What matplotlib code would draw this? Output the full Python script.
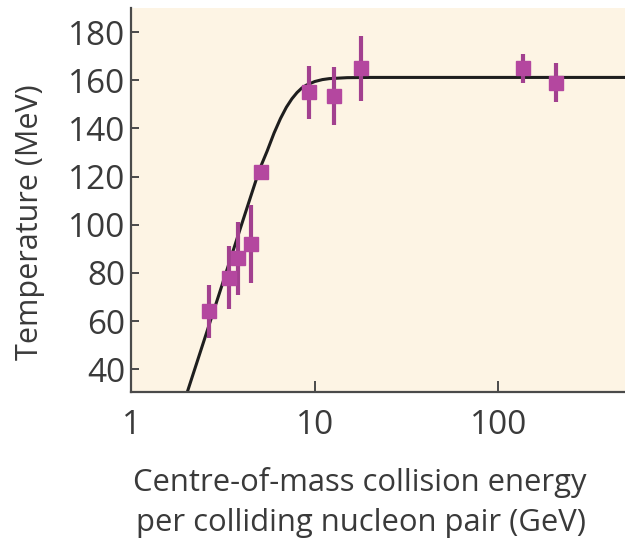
import numpy as np
import matplotlib.pyplot as plt
from matplotlib.ticker import FixedLocator, NullLocator

plt.rcParams['font.family'] = ['Open Sans', 'DejaVu Sans']

# measured points
energy = [2.64, 3.39, 3.84, 4.47, 5.07, 9.3, 12.7, 17.9, 137, 207]
temp = [64, 78, 86, 92, 122, 155, 153.5, 165, 165, 159]
temp_err = [11, 13, 15, 16, 3, 11, 12, 13.5, 6, 8]

# fitted curve
curve_e = [2.02, 3, 4, 5, 5.5, 6, 6.5, 7, 7.5, 8, 8.5, 9, 10, 11, 12, 15, 20, 500]
curve_t = [30.5, 70.8, 100.3, 123.0, 130.6, 138.1, 144.1, 148.8, 152.3, 154.9,
           156.8, 158.0, 159.5, 160.3, 160.7, 161.1, 161.2, 161.2]

ink = '#3a3a3a'
W, H = 625, 540
fig = plt.figure(figsize=(6.25, 5.4), dpi=100)
ax = fig.add_axes([0.21, 0.274, 0.79, 0.711])
ax.set_facecolor('#fdf4e4')

ax.plot(curve_e, curve_t, color='#1e1e1e', lw=2.2, zorder=2)
ax.errorbar(energy, temp, yerr=temp_err, fmt='s', color='#b4479f', ecolor='#a2408f',
            ms=10, elinewidth=3, capsize=0, zorder=3)

ax.set_xscale('log')
ax.set_xlim(1, 490)
ax.set_ylim(30.5, 190)
ax.xaxis.set_major_locator(FixedLocator([1, 10, 100]))
ax.xaxis.set_minor_locator(NullLocator())
ax.set_xticklabels(['1', '10', '100'])
ax.set_yticks(range(40, 181, 20))

for s in ['top', 'right']:
    ax.spines[s].set_visible(False)
for s in ['left', 'bottom']:
    ax.spines[s].set_color('#4a4a4a')
    ax.spines[s].set_linewidth(1.6)

ax.tick_params(axis='both', direction='in', colors='#4a4a4a', labelcolor=ink,
               labelsize=24, width=1.4)
ax.tick_params(axis='y', length=6, pad=4)
ax.tick_params(axis='x', length=8, pad=12)

# axis titles placed by baseline
fig.text(38 / W, 1 - 222 / H, 'Temperature (MeV)', fontsize=22, color=ink,
         rotation=90, rotation_mode='anchor', ha='center', va='baseline')
fig.text(360 / W, 1 - 491 / H, 'Centre-of-mass collision energy',
         fontsize=22.3, color=ink, ha='center', va='baseline')
fig.text(361 / W, 1 - 531 / H, 'per colliding nucleon pair (GeV)',
         fontsize=22.3, color=ink, ha='center', va='baseline')

fig.savefig('out.png')
